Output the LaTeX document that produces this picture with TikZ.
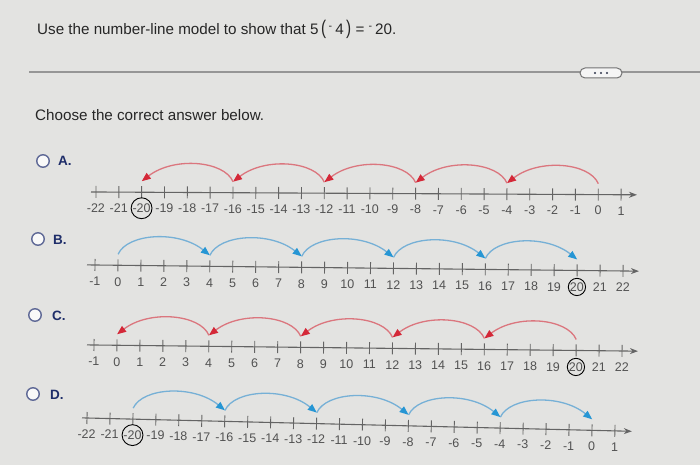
\documentclass[tikz,border=0pt]{standalone}
\usepackage{fontspec}
\setmainfont{Liberation Sans}
\usepackage{graphicx}
\usetikzlibrary{arrows.meta}
\definecolor{bgpage}{RGB}{227,227,225}
\definecolor{axisgray}{RGB}{100,100,100}
\definecolor{labgray}{RGB}{82,82,82}
\definecolor{rulegray}{RGB}{150,150,150}
\definecolor{hopred}{RGB}{219,118,126}
\definecolor{headred}{RGB}{212,40,56}
\definecolor{hopblue}{RGB}{118,176,214}
\definecolor{headblue}{RGB}{38,150,212}
\definecolor{radioring}{RGB}{95,105,150}
\definecolor{choiceblue}{RGB}{30,45,105}
\begin{document}
\begin{tikzpicture}[x=1pt, y=1pt,
   axis/.style={draw=axisgray, line width=1.1pt, -{Stealth[length=8pt,width=6pt]}},
   tick/.style={draw=axisgray, line width=0.9pt},
   numlab/.style={text=labgray, font=\fontsize{12.5}{13}\selectfont, inner sep=0pt},
   circled/.style={draw=black, line width=0.9pt, circle, inner sep=0.3pt},
   redhop/.style={draw=hopred, line width=1.3pt, -{Triangle[length=9pt,width=7pt,color=headred]}},
   bluehop/.style={draw=hopblue, line width=1.3pt, -{Triangle[length=9pt,width=7pt,color=headblue]}},
   radio/.style={circle, draw=radioring, line width=1.4pt, fill=white!80!bgpage, minimum size=12.5pt, inner sep=0pt},
   choice/.style={text=choiceblue, font=\fontsize{13.5}{15}\selectfont\bfseries, anchor=west, inner sep=0pt},
   prompt/.style={text=black!85, font=\fontsize{15.2}{18}\selectfont, anchor=base west, inner sep=0pt},
   pill/.style={draw=black!55, fill=black!4, line width=1pt, rounded corners=5pt, minimum width=42pt, minimum height=10pt}]

\useasboundingbox (0,0) rectangle (700,465);
\fill[bgpage] (0,0) rectangle (700,465);

\node[prompt] (question) at (37,430) {Use the number-line model to show that 5\,\scalebox{1}[1.3]{(}\,\textsuperscript{-}\,4\,\scalebox{1}[1.3]{)} = \textsuperscript{-}\,20.};
\draw[rulegray, line width=1.3pt] (29,393) -- (700,393);
\node[pill] (more) at (601,392) {};
\foreach \d in {-6,0,6} \fill[black!50!radioring] ([xshift=\d]more.center) circle (1.1);
\node[prompt] (choose) at (35,344) {Choose the correct answer below.};

\node[radio] (ra) at (43,304) {};
\node[choice] (ca) at (58,304) {A.};
\node[radio] (rb) at (38,226) {};
\node[choice] (cb) at (53,225) {B.};
\node[radio] (rc) at (35,150) {};
\node[choice] (cc) at (52,149) {C.};
\node[radio] (rd) at (33,71) {};
\node[choice] (cd) at (50,70) {D.};

\begin{scope}[shift={(96,273)}, rotate=-0.3]
  \draw[axis] (-5,0) -- (541,0);
  \foreach \i [evaluate=\i as \xx using (\i+22)*22.83] in {-22,...,1} {
    \draw[tick] (\xx,-6) -- (\xx,6);
    \coordinate (A\i) at (\xx,11);
    \ifnum\i=-20 \node[numlab,circled] (la\i) at (\xx,-16) {\i};
    \else \node[numlab] (la\i) at (\xx,-16) {\i}; \fi
  }
  \foreach \s in {0,-4,-8,-12,-16} {
    \pgfmathtruncatemacro\e{\s-4}
    \draw[redhop] (A\s) .. controls +(-9,21) and +(32,25) .. (A\e);
  }
\end{scope}

\begin{scope}[shift={(95,200)}, rotate=-0.65]
  \draw[axis] (-8,0) -- (544,0);
  \foreach \i [evaluate=\i as \xx using (\i+1)*22.96] in {-1,...,22} {
    \draw[tick] (\xx,-6) -- (\xx,6);
    \coordinate (B\i) at (\xx,11);
    \ifnum\i=20 \node[numlab,circled] (lb\i) at (\xx,-16.5) {\i};
    \else \node[numlab] (lb\i) at (\xx,-16.5) {\i}; \fi
  }
  \foreach \s in {0,4,8,12,16} {
    \pgfmathtruncatemacro\e{\s+4}
    \draw[bluehop] (B\s) .. controls +(9,21) and +(-32,25) .. (B\e);
  }
\end{scope}

\begin{scope}[shift={(94,120)}, rotate=-0.65]
  \draw[axis] (-7,0) -- (544,0);
  \foreach \i [evaluate=\i as \xx using (\i+1)*22.96] in {-1,...,22} {
    \draw[tick] (\xx,-6) -- (\xx,6);
    \coordinate (C\i) at (\xx,11);
    \ifnum\i=20 \node[numlab,circled] (lc\i) at (\xx,-16.5) {\i};
    \else \node[numlab] (lc\i) at (\xx,-16.5) {\i}; \fi
  }
  \foreach \s in {20,16,12,8,4} {
    \pgfmathtruncatemacro\e{\s-4}
    \draw[redhop] (C\s) .. controls +(-9,21) and +(32,25) .. (C\e);
  }
\end{scope}

\begin{scope}[shift={(87,47)}, rotate=-1.4]
  \draw[axis] (-5,0) -- (545,0);
  \foreach \i [evaluate=\i as \xx using (\i+22)*22.96] in {-22,...,1} {
    \draw[tick] (\xx,-6) -- (\xx,6);
    \coordinate (D\i) at (\xx,11);
    \ifnum\i=-20 \node[numlab,circled] (ld\i) at (\xx,-16) {\i};
    \else \node[numlab] (ld\i) at (\xx,-16) {\i}; \fi
  }
  \foreach \s in {-20,-16,-12,-8,-4} {
    \pgfmathtruncatemacro\e{\s+4}
    \draw[bluehop] (D\s) .. controls +(9,21) and +(-32,25) .. (D\e);
  }
\end{scope}

\end{tikzpicture}
\end{document}
